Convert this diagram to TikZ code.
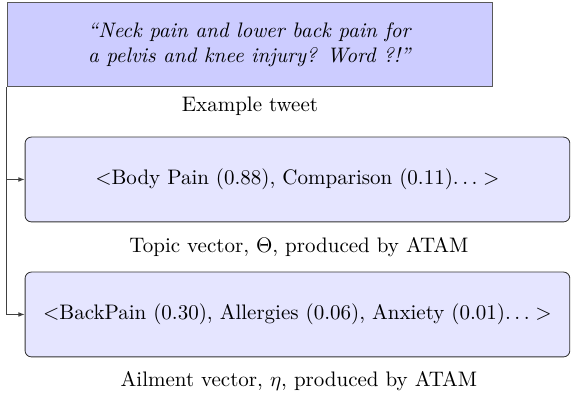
\documentclass[tikz,border=0pt]{standalone}
\usepackage{amsmath}
\usetikzlibrary{arrows.meta,positioning}

\begin{document}
\begin{tikzpicture}[>=Latex,
  tweetbox/.style={draw=black!65,fill=blue!20,minimum width=8.135cm,minimum height=1.42cm,align=center,inner sep=2pt},
  vecbox/.style={draw=black!80,rounded corners=3pt,fill=blue!10,minimum width=9.12cm,minimum height=1.42cm,align=center,inner sep=2pt},
  caption/.style={inner sep=1pt}]
\useasboundingbox (0,0) rectangle (9.56,-6.61);
\node[tweetbox] (tweet) at (4.185,-0.745) {\textit{``Neck pain and lower back pain for}\\\textit{a pelvis and knee injury? Word ?!''}};
\node[caption] (tweetcap) at (4.185,-1.775) {Example tweet};
\node[vecbox] (topic) at (4.98,-3.005) {$<$Body Pain (0.88), Comparison (0.11)$\ldots>$};
\node[caption] (topiccap) at (5.005,-4.135) {Topic vector, $\Theta$, produced by ATAM};
\node[vecbox] (ailment) at (4.98,-5.265) {$<$BackPain (0.30), Allergies (0.06), Anxiety (0.01)$\ldots>$};
\node[caption] (ailmentcap) at (5.005,-6.378) {Ailment vector, $\eta$, produced by ATAM};
\draw[draw=black!75,-{Latex[length=3pt]}] (tweet.south west) |- (topic.west);
\draw[draw=black!75,-{Latex[length=3pt]}] (tweet.south west) |- (ailment.west);
\end{tikzpicture}
\end{document}
